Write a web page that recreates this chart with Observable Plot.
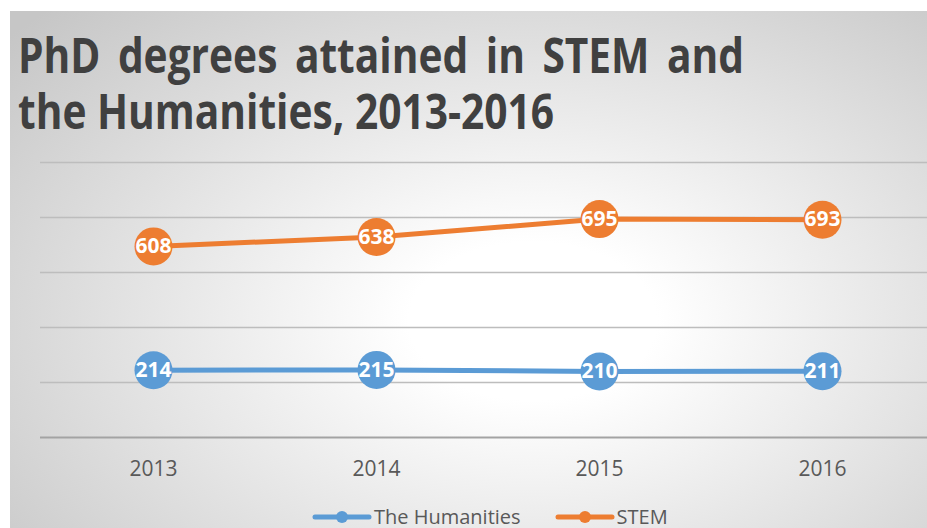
<!DOCTYPE html>
<html><head><meta charset="utf-8">
<script src="https://cdn.jsdelivr.net/npm/d3@7"></script>
<script src="https://cdn.jsdelivr.net/npm/@observablehq/plot@0.6"></script>
<style>
html,body{margin:0;padding:0;background:#fff;width:927px;height:528px;overflow:hidden}
#chart{position:absolute;left:10px;top:11px;width:917px;height:517px;overflow:hidden;
 background:radial-gradient(ellipse 75% 85% at 57% 60%, #ffffff 0%, #ffffff 18%, #c6c6c6 100%);}
#title{height:135px;box-sizing:border-box;padding-top:16px;padding-left:8px;font-family:"Open Sans",sans-serif;font-weight:700;font-size:48px;line-height:56px;color:#404040;white-space:nowrap}
#titleInner{transform-origin:0 0;display:inline-block}
#line1{text-align:justify;text-align-last:justify;white-space:normal}
#plot svg{display:block}
#legend{height:37px;box-sizing:border-box;padding-top:14px;padding-left:301px;font-family:"Open Sans",sans-serif;font-size:20px;line-height:22px;color:#595959;display:flex;align-items:center;white-space:nowrap}
.item{display:flex;align-items:center;margin-right:33px}
.item svg{margin-right:1px}
</style></head>
<body>
<div id="chart">
  <div id="title"><div id="titleInner"><div id="line1"></div><div id="line2"></div></div></div>
  <div id="plot"></div>
  <div id="legend"></div>
</div>
<script>
const titleLines = ["PhD degrees attained in STEM and", "the Humanities, 2013-2016"];
const years = ["2013", "2014", "2015", "2016"];
const seriesNames = ["The Humanities", "STEM"];
const seriesColors = ["#5B9BD5", "#ED7D31"];
const humanities = [214, 215, 210, 211];
const stem = [608, 638, 695, 693];
const yTicks = [0, 175, 350, 525, 700, 875];

const rows = [];
years.forEach((yr, i) => {
  rows.push({year: yr, series: seriesNames[0], value: humanities[i]});
  rows.push({year: yr, series: seriesNames[1], value: stem[i]});
});

// Title (condensed to mimic Calibri Bold)
const ctx = document.createElement("canvas").getContext("2d");
ctx.font = "bold 48px 'Open Sans'";
const w2 = ctx.measureText(titleLines[1]).width;
const s = 536 / w2;
document.getElementById("line1").textContent = titleLines[0];
document.getElementById("line2").textContent = titleLines[1];
document.getElementById("line1").style.width = (726 / s) + "px";
document.getElementById("titleInner").style.transform = `scaleX(${s})`;

const chart = Plot.plot({
  width: 917, height: 345,
  marginTop: 16, marginBottom: 54, marginLeft: 30, marginRight: 0,
  style: {background: "transparent", overflow: "visible", fontFamily: "Open Sans", color: "#595959"},
  x: {type: "point", domain: years, range: [143, 812], padding: 0, label: null},
  y: {domain: [0, 875], axis: null},
  color: {domain: seriesNames, range: seriesColors},
  marks: [
    Plot.ruleY(yTicks.filter(d => d > 0), {stroke: "#bdbdbd", strokeWidth: 1.6}),
    Plot.ruleY([0], {stroke: "#a3a3a3", strokeWidth: 2}),
    Plot.axisX({tickSize: 0, tickPadding: 24, fontSize: 21, label: null}),
    Plot.line(rows, {x: "year", y: "value", z: "series", stroke: "series", strokeWidth: 5}),
    Plot.dot(rows, {x: "year", y: "value", r: 19, fill: "series", stroke: null}),
    Plot.text(rows, {x: "year", y: "value", text: d => String(d.value), fill: "white", fontWeight: "bold", fontSize: 21, fontFamily: "Open Sans"})
  ]
});
document.getElementById("plot").appendChild(chart);

const legend = document.getElementById("legend");
seriesNames.forEach((name, i) => {
  const item = document.createElement("div");
  item.className = "item";
  item.innerHTML = `<svg width="62" height="14"><line x1="4" y1="7" x2="58" y2="7" stroke="${seriesColors[i]}" stroke-width="5" stroke-linecap="round"/><circle cx="31" cy="7" r="6" fill="${seriesColors[i]}"/></svg><span>${name}</span>`;
  legend.appendChild(item);
});
</script>
</body></html>
